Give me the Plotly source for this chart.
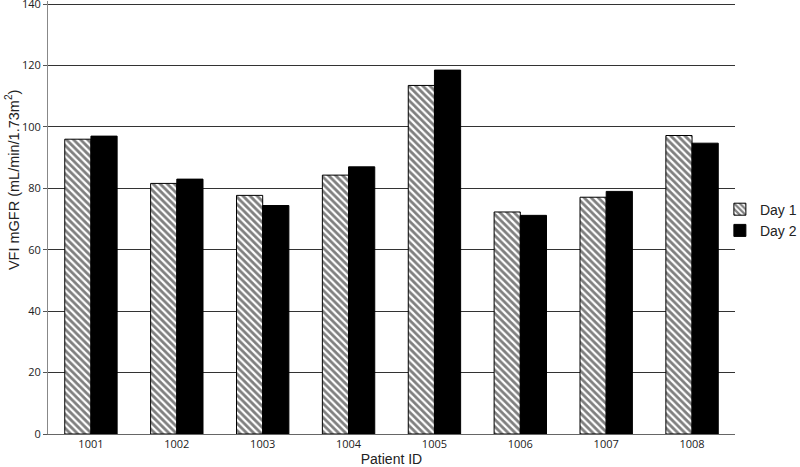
import plotly.graph_objects as go

patients = ['1001', '1002', '1003', '1004', '1005', '1006', '1007', '1008']
day1 = [96.0, 81.6, 77.7, 84.3, 113.5, 72.3, 77.1, 97.2]
day2 = [97.0, 83.0, 74.4, 87.0, 118.5, 71.2, 79.0, 94.7]

fig = go.Figure()
fig.add_trace(go.Bar(
    x=patients, y=day1, name='Day 1',
    marker=dict(color='white', line=dict(color='black', width=1),
                pattern=dict(shape='\\', fgcolor='black', bgcolor='white',
                             size=5, solidity=0.55))))
fig.add_trace(go.Bar(
    x=patients, y=day2, name='Day 2',
    marker=dict(color='black', line=dict(color='black', width=1))))

# y title sits above the middle of the axis in the original, so place it by hand
fig.add_annotation(text='VFI mGFR (mL/min/1.73m<sup>2</sup>)', textangle=-90,
                   xref='paper', yref='paper', x=-0.052, y=0.587,
                   xanchor='center', yanchor='middle',
                   showarrow=False, font=dict(size=14.5, color='#222'))

fig.update_layout(
    width=800, height=467,
    margin=dict(l=48, r=65, t=1, b=33, autoexpand=False),
    paper_bgcolor='white', plot_bgcolor='white',
    barmode='group', bargap=0.39, bargroupgap=0,
    font=dict(family='Liberation Sans, Arial', color='#222'),
    legend=dict(x=0.978, y=0.494, xanchor='left', yanchor='middle',
                font=dict(size=14), itemwidth=30,
                bgcolor='rgba(0,0,0,0)'),
    xaxis=dict(title=dict(text='Patient ID', font=dict(size=14)),
               automargin=False,
               tickfont=dict(size=11, family='Open Sans'), showline=True,
               linecolor='#666', ticks=''),
    yaxis=dict(automargin=False, ticklabeloverflow='allow',
               range=[0, 141], tickvals=[0, 20, 40, 60, 80, 100, 120, 140],
               tickfont=dict(size=11, family='Open Sans'),
               gridcolor='#333', gridwidth=1, showline=True, linecolor='#888',
               ticks='outside', ticklen=4, tickcolor='#555', zeroline=False),
)

# drop the page's default body margin so the figure sits at the window corner
fig.write_html("out.html", config={'displayModeBar': False},
               post_script="document.body.style.margin='0';")
